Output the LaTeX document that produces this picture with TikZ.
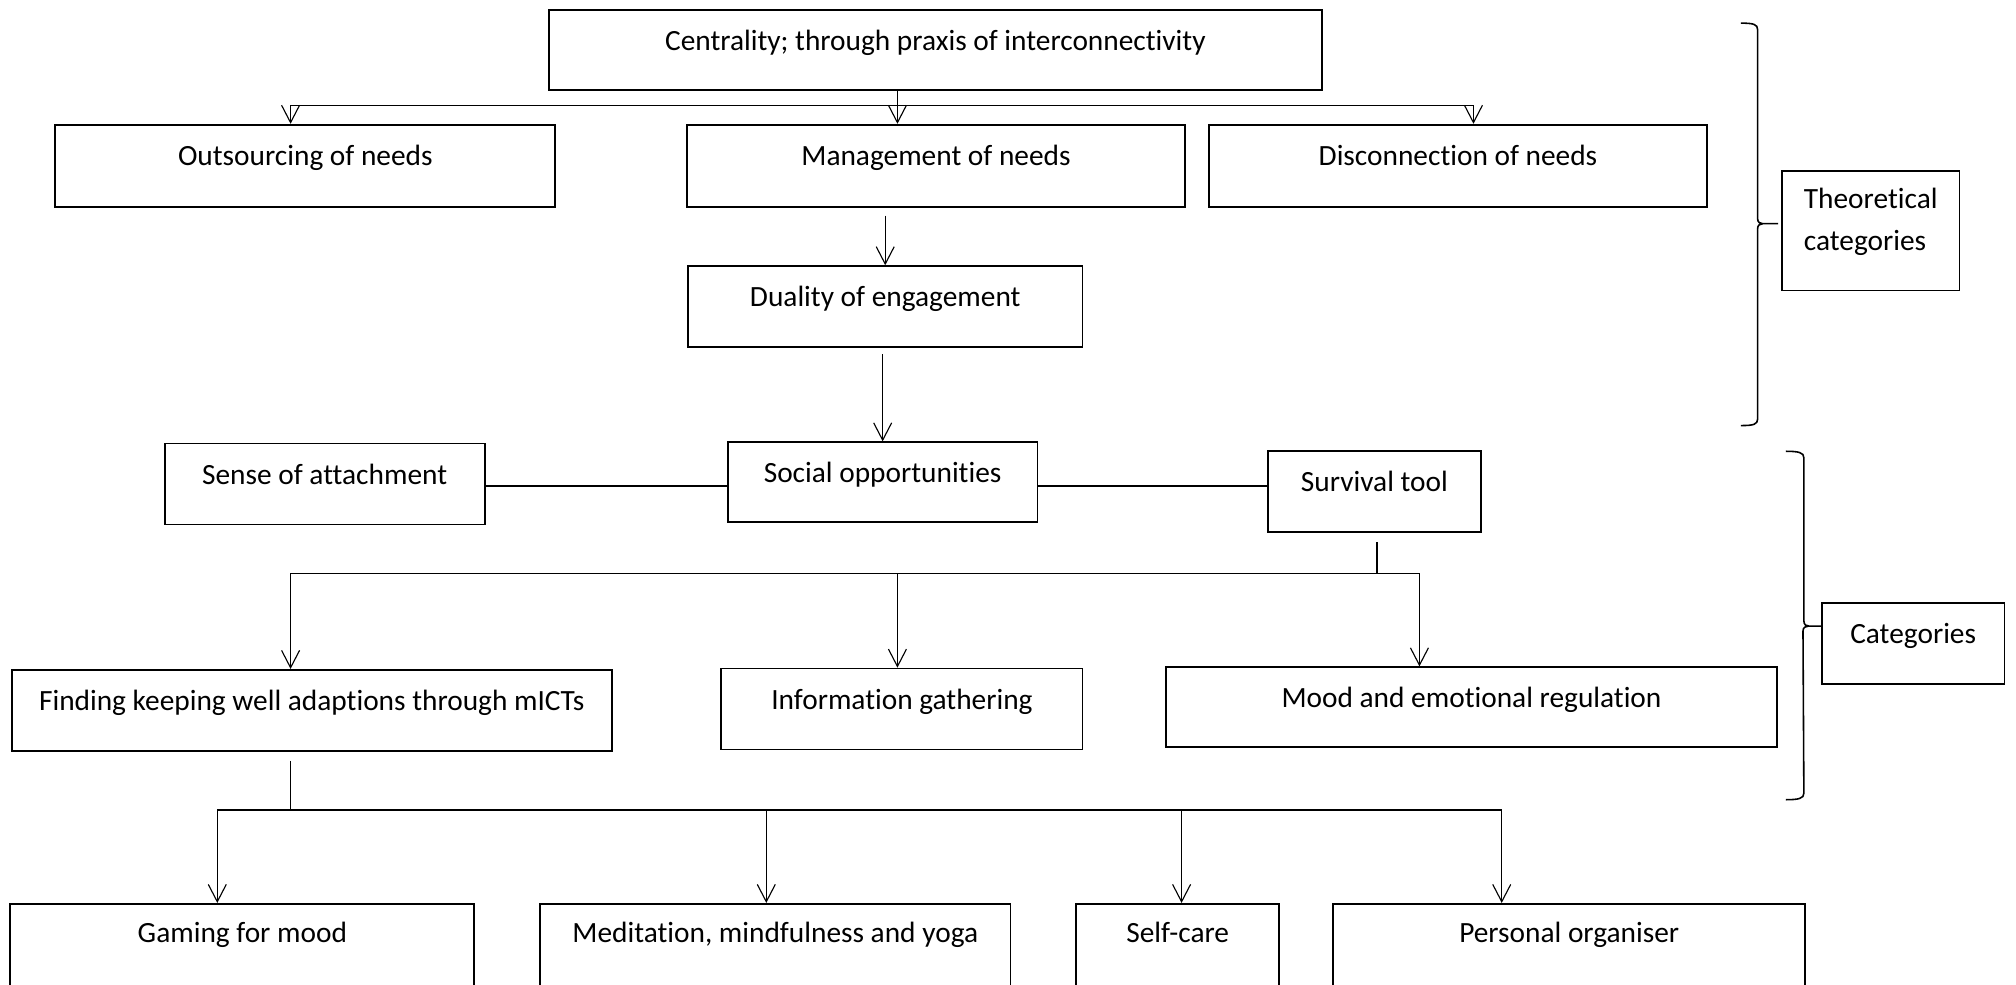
\documentclass[tikz,border=0pt]{standalone}
\usepackage{fontspec}
\setmainfont{Carlito}[Ligatures=CommonOff]
\usetikzlibrary{arrows.meta}

\tikzset{
  box/.style={draw, line width=0.8pt, inner sep=2pt, text height=0.3cm, text depth=0.3cm,
    font=\fontsize{13}{18.5}\selectfont},
  cutbox/.style={box, minimum height=1.4cm, text depth=0.5cm},
  wire/.style={line width=0.5pt},
  link/.style={wire, -{Straight Barb[length=0.27cm,width=0.28cm]}},
  bracket/.style={line width=0.7pt},
}

\begin{document}
\begin{tikzpicture}[x=0.02cm, y=-0.02cm]
  \clip (0,0) rectangle (1568,766);
  % theoretical level
  \node[box, minimum width=12.02cm, minimum height=1.24cm] (central) at (727.5,39) {Centrality; through praxis of interconnectivity};
  \node[box, minimum width=7.78cm, minimum height=1.28cm] (outs) at (237.5,129) {Outsourcing of needs};
  \node[box, minimum width=7.76cm, minimum height=1.28cm] (mgmt) at (728,129) {Management of needs};
  \node[box, minimum width=7.76cm, minimum height=1.28cm] (disc) at (1134,129) {Disconnection of needs};
  \node[box, minimum width=6.14cm, minimum height=1.26cm] (duality) at (688.5,238.5) {Duality of engagement};
  % categories
  \node[box, minimum width=4.98cm, minimum height=1.26cm] (sense) at (252.5,376.5) {Sense of attachment};
  \node[box, minimum width=4.82cm, minimum height=1.24cm] (social) at (686.5,375) {Social opportunities};
  \node[box, minimum width=3.32cm, minimum height=1.26cm] (survival) at (1069,382.5) {Survival tool};
  \node[box, minimum width=9.34cm, minimum height=1.26cm] (finding) at (242.5,552.5) {Finding keeping well adaptions through mICTs};
  \node[box, minimum width=5.62cm, minimum height=1.26cm] (info) at (701.5,551.5) {Information gathering};
  \node[box, minimum width=9.5cm, minimum height=1.24cm] (mood) at (1144.5,550) {Mood and emotional regulation};
  % adaptions
  \node[cutbox, minimum width=7.22cm] (gaming) at (188.5,738) {Gaming for mood};
  \node[cutbox, minimum width=7.32cm] (medit) at (603,738) {Meditation, mindfulness and yoga};
  \node[cutbox, minimum width=3.16cm] (selfcare) at (916,738) {Self-care};
  \node[cutbox, minimum width=7.34cm] (organiser) at (1220.5,738) {Personal organiser};
  % side labels
  \node[box, minimum width=2.76cm, minimum height=1.86cm, text height=1cm, text depth=0.4cm] (theory) at (1455,179.5)
    {\begin{tabular}[b]{@{}l@{}}Theoretical\\categories\end{tabular}};
  \node[box, minimum width=2.84cm, minimum height=1.26cm] (cats) at (1488,500.5) {Categories};

  % top split
  \coordinate (busL) at (226,82);
  \coordinate (busM) at (698,82);
  \coordinate (busR) at (1146,82);
  \draw[wire] (busL) -- (busR);
  \draw[link] (busM |- central.south) -- (busM |- mgmt.north);
  \draw[link] (busL) -- (busL |- outs.north);
  \draw[link] (busR) -- (busR |- disc.north);
  \draw[link] ([yshift=-0.12cm]duality.north |- mgmt.south) -- (duality.north);
  \draw[link] ([yshift=-0.1cm]social.north |- duality.south) -- (social.north);

  % middle row
  \coordinate (row) at (0,378);
  \draw[wire] (sense.east |- row) -- (social.west |- row);
  \draw[wire] (social.east |- row) -- (survival.west |- row);

  % survival split
  \coordinate (stemS) at (1071,446);
  \coordinate (splitL) at (226,446);
  \coordinate (splitM) at (698,446);
  \coordinate (splitR) at (1104,446);
  \draw[wire] ([yshift=-0.14cm]stemS |- survival.south) -- (stemS);
  \draw[wire] (splitL) -- (splitR);
  \draw[link] (splitL) -- (splitL |- finding.north);
  \draw[link] (splitM) -- (splitM |- info.north);
  \draw[link] (splitR) -- (splitR |- mood.north);

  % adaptions split
  \coordinate (stemF) at (226,630);
  \coordinate (toolA) at (169,630);
  \coordinate (toolB) at (596,630);
  \coordinate (toolC) at (919,630);
  \coordinate (toolD) at (1168,630);
  \draw[wire] ([yshift=-0.14cm]stemF |- finding.south) -- (stemF);
  \draw[wire] (toolA) -- (toolD);
  \foreach \t/\b in {toolA/gaming, toolB/medit, toolC/selfcare, toolD/organiser}
    \draw[link] (\t) -- (\t |- \b.north);

  % brackets
  \draw[bracket] (1354,18) .. controls +(10,0) and +(0,-4) .. ++(13,5) -- (1367,170)
    .. controls +(0,3) and +(-2,0) .. ++(4,4) -- ++(12,0) ++(-12,0)
    .. controls +(-2,0) and +(0,-3) .. ++(-4,4) -- (1367,326)
    .. controls +(0,4) and +(10,0) .. ++(-13,5);
  \draw[bracket] (1389,351) .. controls +(10,0) and +(0,-4) .. ++(14,5) -- (1403,483)
    .. controls +(0,3) and +(-2,0) .. ++(4,4) -- (cats.west |- 0,487) ++(-10,0)
    .. controls +(-2,0) and +(0,-3) .. ++(-4,4) -- (1403,617)
    .. controls +(0,4) and +(10,0) .. ++(-14,5);
\end{tikzpicture}
\end{document}
